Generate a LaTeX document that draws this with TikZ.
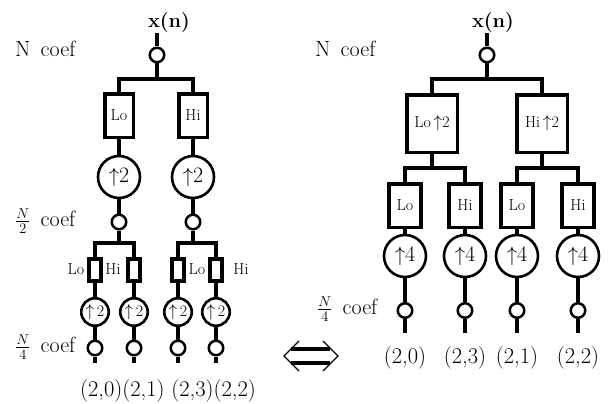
\documentclass[tikz,border=0pt]{standalone}
\begin{document}
\begin{tikzpicture}[x=1pt,y=-1pt,
  wire/.style={line width=3.3pt,line join=miter},
  dot/.style={circle,draw,line width=2.5pt,minimum size=14.5pt,inner sep=0pt},
  upc/.style={circle,draw,line width=2.6pt,minimum size=42pt,inner sep=0pt,
    font=\fontsize{22}{24}\selectfont},
  upcs/.style={circle,draw,line width=2.6pt,minimum size=27.5pt,inner sep=0pt,
    font=\fontsize{16}{18}\selectfont},
  filt/.style={rectangle,draw,line width=3.5pt,inner sep=0pt,
    font=\fontsize{16}{18}\selectfont},
  lbox/.style={filt,minimum width=28.5pt,minimum height=43.5pt},
  sbox/.style={filt,minimum width=12pt,minimum height=22pt},
  rbig/.style={filt,minimum width=50.5pt,minimum height=57.5pt},
  rbox/.style={filt,minimum width=32pt,minimum height=43.5pt},
  txt/.style={inner sep=0pt,font=\fontsize{22}{24}\selectfont},
  idx/.style={inner sep=0pt,font=\fontsize{22.5}{24}\selectfont},
  small/.style={inner sep=0pt,font=\fontsize{16}{18}\selectfont},
  bold/.style={inner sep=0pt,font=\fontsize{20}{24}\selectfont\bfseries}]
\useasboundingbox (0,0) rectangle (613,404);

% ---------- left: two-stage tree ----------
\node[bold] (xl) at (169,23) {x(n)};
\coordinate (lt0) at (157,33);
\node[dot] (ld0) at (157,55) {};
\coordinate (lj0) at (157,79);
\coordinate (lb0L) at (119,79);
\coordinate (lb0R) at (193,79);
\node[lbox] (lLo) at (119,115.5) {Lo};
\node[lbox] (lHi) at (193,115.5) {Hi};
\node[upc] (lu1) at (119,177) {$\uparrow$2};
\node[upc] (lu2) at (193,177) {$\uparrow$2};
\node[dot] (ld1) at (119,222) {};
\node[dot] (ld2) at (193,222) {};

\draw[wire] (lt0) -- (ld0);
\draw[wire] (ld0) -- (lj0);
\draw[wire] (lLo) -- (lb0L) -- (lb0R) -- (lHi);
\draw[wire] (lLo) -- (lu1);
\draw[wire] (lHi) -- (lu2);
\draw[wire] (lu1) -- (ld1);
\draw[wire] (lu2) -- (ld2);

% second stage
\coordinate (lj1) at (119,243);
\coordinate (lj2) at (193,243);
\coordinate (lb1L) at (95,243);
\coordinate (lb1R) at (134,243);
\coordinate (lb2L) at (178,243);
\coordinate (lb2R) at (216,243);
\node[sbox] (ls1) at (95,270) {};
\node[sbox] (ls2) at (134,270) {};
\node[sbox] (ls3) at (178,270) {};
\node[sbox] (ls4) at (216,270) {};
\node[small] at (76,269) {Lo};
\node[small] at (113,269) {Hi};
\node[small] at (197,269) {Lo};
\node[small] at (241,269) {Hi};

\draw[wire] (ld1) -- (lj1);
\draw[wire] (ld2) -- (lj2);
\draw[wire] (ls1) -- (lb1L) -- (lb1R) -- (ls2);
\draw[wire] (ls3) -- (lb2L) -- (lb2R) -- (ls4);

\foreach \i/\x in {1/95,2/134,3/178,4/216}{
  \node[upcs] (lv\i) at (\x,312) {$\uparrow$\,2};
  \node[dot] (le\i) at (\x,348) {};
  \coordinate (lo\i) at (\x,363);
  \draw[wire] (ls\i) -- (lv\i);
  \draw[wire] (lv\i) -- (le\i);
  \draw[wire] (le\i) -- (lo\i);
}

\node[txt,anchor=west] (lN) at (15,49) {N\ \,coef};
\node[txt,anchor=west] (lN2) at (15,221) {$\frac{N}{2}$\ \,coef};
\node[txt,anchor=west] (lN4) at (15,347) {$\frac{N}{4}$\ \,coef};
\node[idx] (lidx) at (168,391) {(2,0)(2,1) (2,3)(2,2)};

% ---------- equivalence sign ----------
\draw[line width=4pt] (291,349) -- (330,349);
\draw[line width=4pt] (291,363) -- (330,363);
\draw[line width=1.3pt] (299,341) -- (284,356) -- (299,371);
\draw[line width=1.3pt] (323,341) -- (338,356) -- (323,371);

% ---------- right: merged tree ----------
\node[bold] (xr) at (493,23) {x(n)};
\coordinate (rt0) at (487,33);
\node[dot] (rd0) at (487,55) {};
\coordinate (rj0) at (487,79);
\coordinate (rb0L) at (432,79);
\coordinate (rb0R) at (542,79);
\node[rbig] (rLo) at (432,123.5) {Lo$\,\uparrow$2};
\node[rbig] (rHi) at (542,123.5) {Hi$\,\uparrow$2};

\draw[wire] (rt0) -- (rd0);
\draw[wire] (rd0) -- (rj0);
\draw[wire] (rLo) -- (rb0L) -- (rb0R) -- (rHi);

\coordinate (rj1) at (432,168);
\coordinate (rj2) at (542,168);
\coordinate (rb1L) at (405,168);
\coordinate (rb1R) at (465,168);
\coordinate (rb2L) at (517,168);
\coordinate (rb2R) at (578,168);
\node[rbox] (rs1) at (405,205.5) {Lo};
\node[rbox] (rs2) at (465,205.5) {Hi};
\node[rbox] (rs3) at (517,205.5) {Lo};
\node[rbox] (rs4) at (578,205.5) {Hi};

\draw[wire] (rLo) -- (rj1);
\draw[wire] (rHi) -- (rj2);
\draw[wire] (rs1) -- (rb1L) -- (rb1R) -- (rs2);
\draw[wire] (rs3) -- (rb2L) -- (rb2R) -- (rs4);

\foreach \i/\x/\lab in {1/405/{(2,0)},2/465/{(2,3)},3/517/{(2,1)},4/578/{(2,2)}}{
  \node[upc] (rv\i) at (\x,256) {$\uparrow$4};
  \node[dot] (re\i) at (\x,310.5) {};
  \coordinate (ro\i) at (\x,333);
  \node[idx] (rl\i) at (\x,358) {\lab};
  \draw[wire] (rs\i) -- (rv\i);
  \draw[wire] (rv\i) -- (re\i);
  \draw[wire] (re\i) -- (ro\i);
}

\node[txt,anchor=west] (rN) at (315,49) {N\ \,coef};
\node[txt,anchor=west] (rN4) at (317,309) {$\frac{N}{4}$\ \,coef};
\end{tikzpicture}
\end{document}
